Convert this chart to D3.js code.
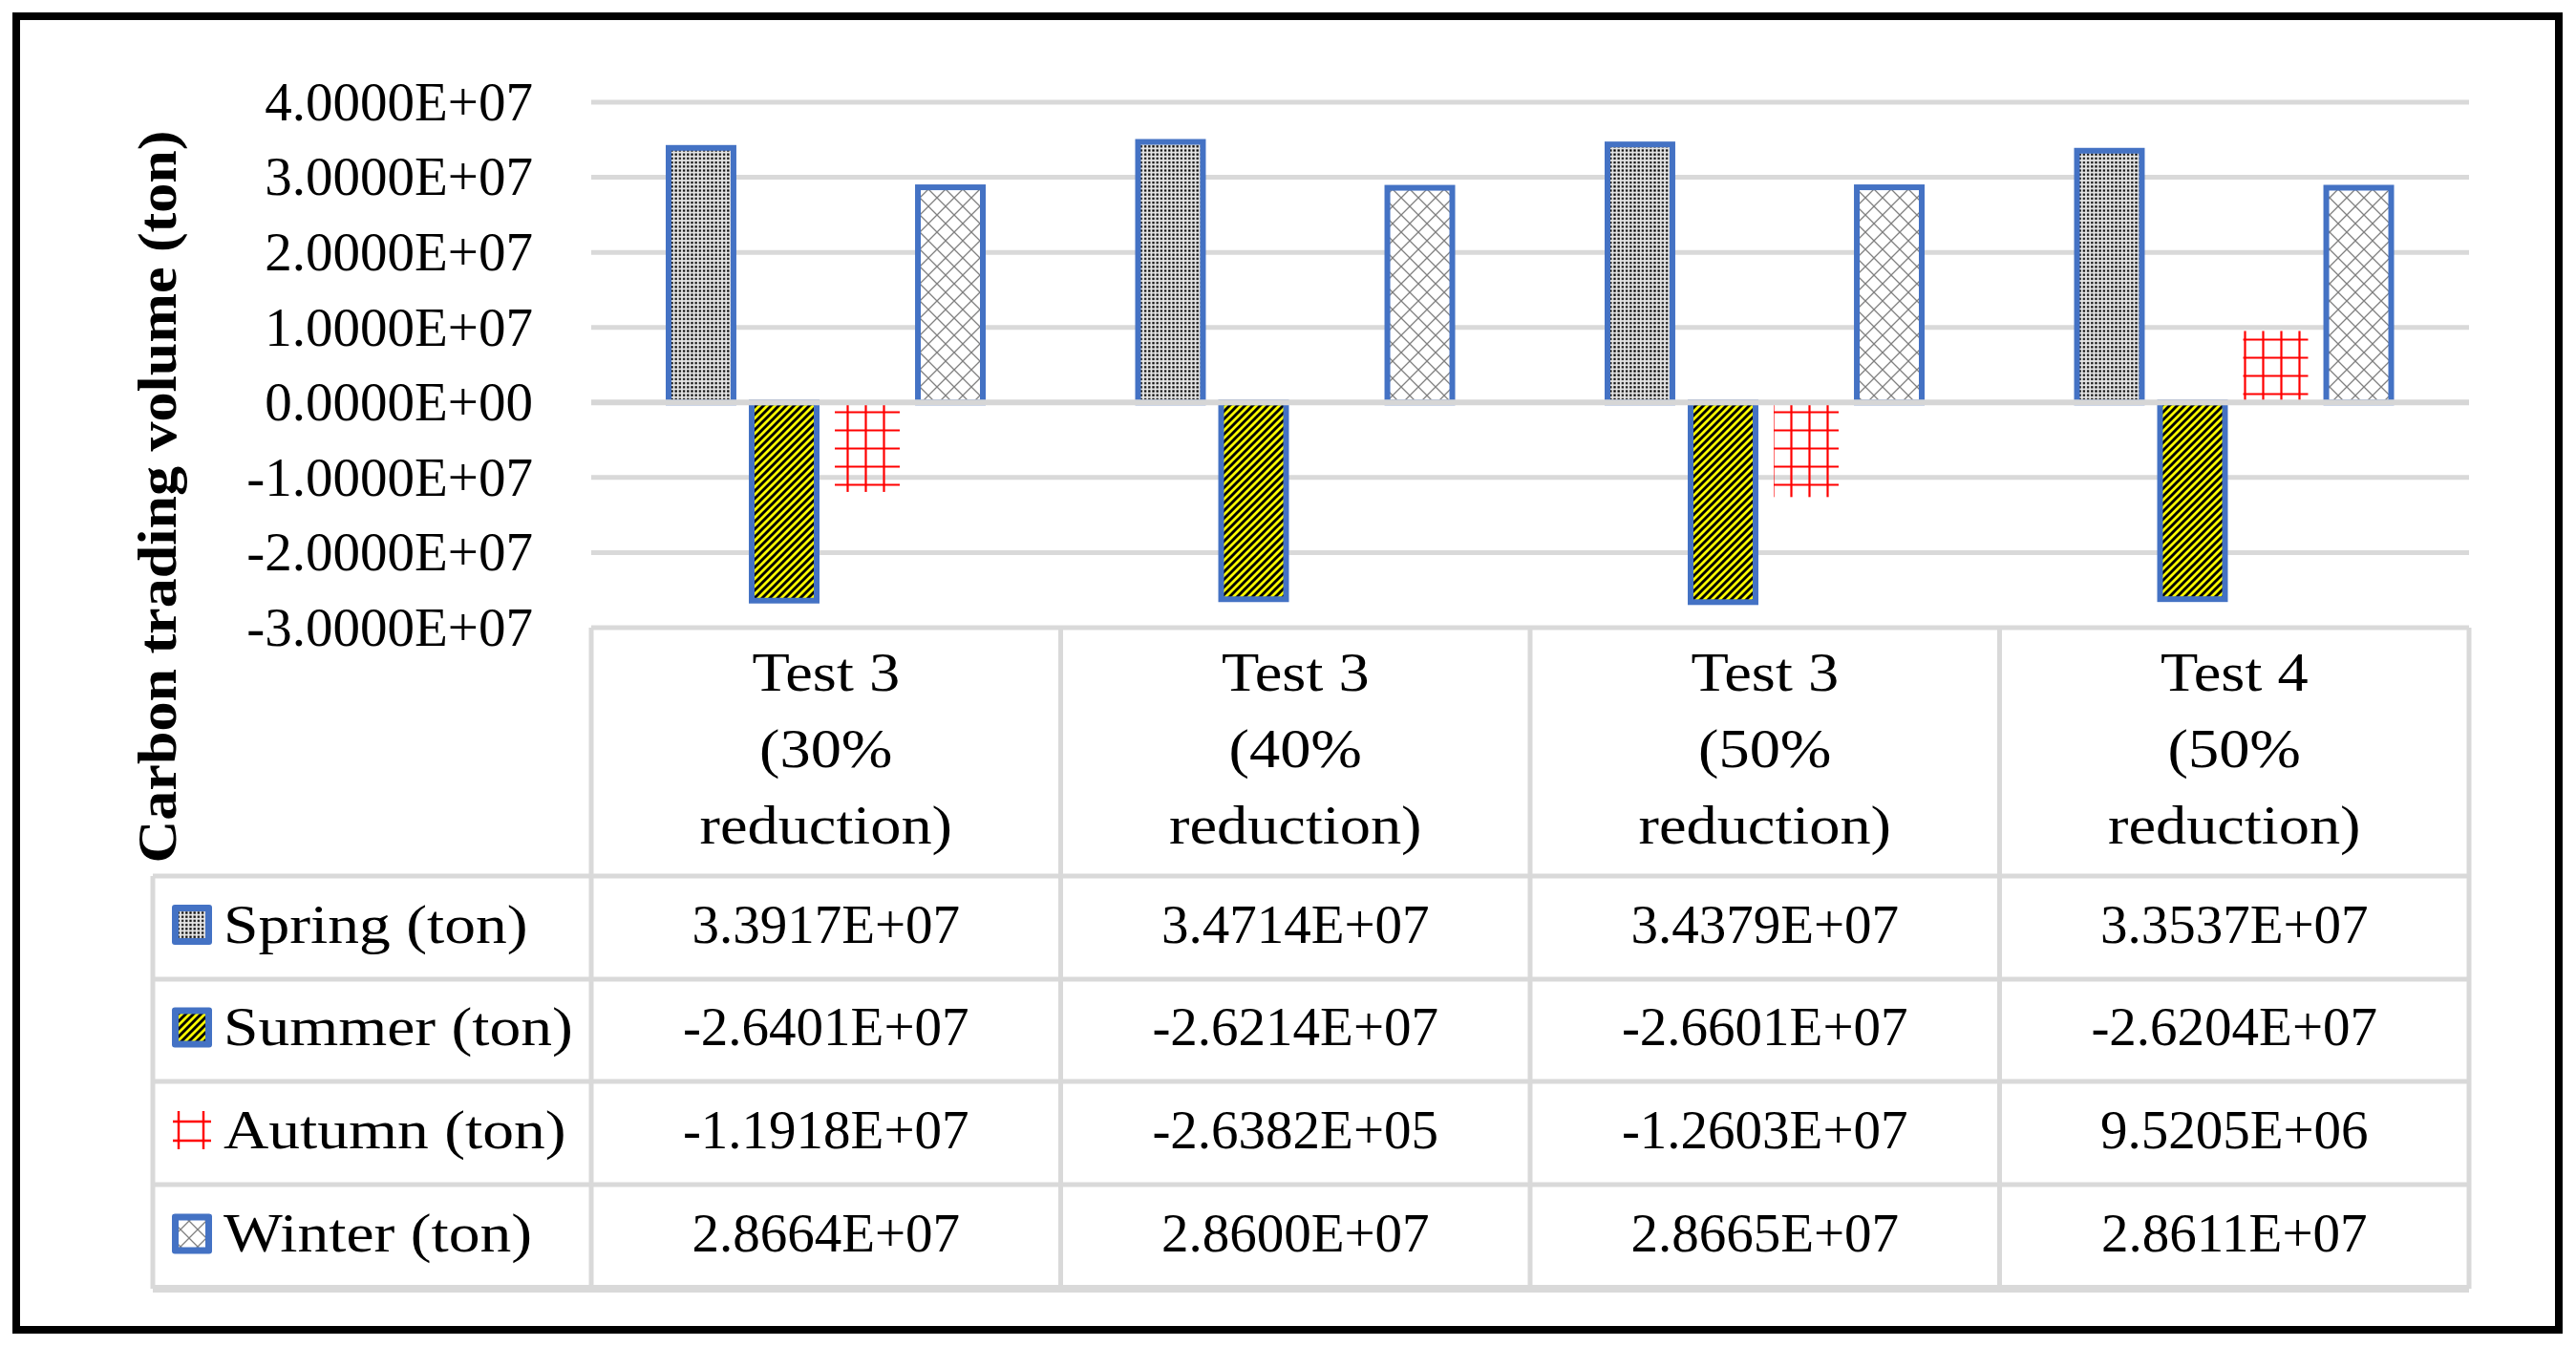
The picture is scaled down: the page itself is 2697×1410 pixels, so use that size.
<!DOCTYPE html>
<html>
<head>
<meta charset="utf-8">
<script src="https://cdn.jsdelivr.net/npm/d3@7"></script>
<style>
  html, body { margin: 0; padding: 0; background: #fff; }
  svg { display: block; }
  text { font-family: "Liberation Serif", "Times New Roman", serif; fill: #000; }
</style>
</head>
<body>
<script>
// ---------------- DATA ----------------
const categoryLines = [
  ["Test 3", "(30%", "reduction)"],
  ["Test 3", "(40%", "reduction)"],
  ["Test 3", "(50%", "reduction)"],
  ["Test 4", "(50%", "reduction)"]
];
const seriesNames = ["Spring (ton)", "Summer (ton)", "Autumn (ton)", "Winter (ton)"];
const spring = [3.3917e7, 3.4714e7, 3.4379e7, 3.3537e7];
const summer = [-2.6401e7, -2.6214e7, -2.6601e7, -2.6204e7];
const autumn = [-1.1918e7, -2.6382e5, -1.2603e7, 9.5205e6];
const winter = [2.8664e7, 2.8600e7, 2.8665e7, 2.8611e7];
const yTicks = [4e7, 3e7, 2e7, 1e7, 0, -1e7, -2e7, -3e7];
const yTitle = "Carbon trading volume (ton)";

const seriesValues = [spring, summer, autumn, winter];
const seriesFill = ["url(#pSpring)", "url(#pSummer)", "url(#pAutumn)", "url(#pWinter)"];

// ---------------- LAYOUT ----------------
const W = 2697, H = 1410;
const plotL = 619, plotR = 2585, plotT = 107, plotB = 657;
const tableLeft = 160;
const rowLines = [917, 1025, 1132, 1240, 1349];
const wordStretch = 1.13;

const fmt = v => v.toExponential(4).toUpperCase().replace(/E([+-])(\d)$/, "E$10$2");

const svg = d3.select("body").append("svg").attr("width", W).attr("height", H);
svg.append("rect").attr("width", W).attr("height", H).attr("fill", "#fff");

// ---------------- PATTERNS ----------------
const defs = svg.append("defs");
// dotted (spring)
const pS = defs.append("pattern").attr("id", "pSpring").attr("patternUnits", "userSpaceOnUse")
  .attr("width", 4.2).attr("height", 4.2);
pS.append("rect").attr("width", 4.2).attr("height", 4.2).attr("fill", "#e4e4e4");
pS.append("rect").attr("x", 1).attr("y", 1).attr("width", 2.2).attr("height", 2.2).attr("fill", "#000");
// yellow / black diagonal (summer)
const pSu = defs.append("pattern").attr("id", "pSummer").attr("patternUnits", "userSpaceOnUse")
  .attr("width", 8).attr("height", 8);
pSu.append("rect").attr("width", 8).attr("height", 8).attr("fill", "#ffff00");
pSu.append("path").attr("d", "M-2,2 L2,-2 M0,8 L8,0 M6,10 L10,6")
  .attr("stroke", "#000").attr("stroke-width", 2.9);
// red grid (autumn)
const pA = defs.append("pattern").attr("id", "pAutumn").attr("patternUnits", "userSpaceOnUse")
  .attr("width", 19).attr("height", 19).attr("x", 4).attr("y", 4);
pA.append("path").attr("d", "M9.5,0 V19 M0,9.5 H19").attr("stroke", "#ff0000").attr("stroke-width", 2.2);
// crosshatch (winter)
const pW = defs.append("pattern").attr("id", "pWinter").attr("patternUnits", "userSpaceOnUse")
  .attr("width", 18).attr("height", 18);
pW.append("rect").attr("width", 18).attr("height", 18).attr("fill", "#fff");
pW.append("path").attr("d", "M0,0 L18,18 M18,0 L0,18").attr("stroke", "#808080").attr("stroke-width", 1.3);

// ---------------- SCALES ----------------
const y = d3.scaleLinear().domain([-3e7, 4e7]).range([plotB, plotT]);
const x = d3.scaleBand().domain(d3.range(categoryLines.length)).range([plotL, plotR]);
const xs = d3.scaleBand().domain(seriesNames).range([78, 413]).paddingInner(0.15);

// ---------------- GRIDLINES ----------------
svg.append("g").selectAll("line").data(yTicks.filter(t => t !== 0)).join("line")
  .attr("x1", plotL).attr("x2", plotR)
  .attr("y1", d => y(d)).attr("y2", d => y(d))
  .attr("stroke", "#d9d9d9").attr("stroke-width", 5);

// ---------------- Y AXIS LABELS ----------------
svg.append("g").selectAll("text").data(yTicks).join("text")
  .attr("x", 558).attr("y", d => y(d)).attr("dy", "0.33em")
  .attr("text-anchor", "end").attr("font-size", 57)
  .text(fmt);

// Y title
svg.append("text")
  .attr("transform", `translate(184,520) rotate(-90) scale(1.07,1)`)
  .attr("text-anchor", "middle").attr("font-size", 58).attr("font-weight", "bold")
  .text(yTitle);

// ---------------- BARS ----------------
const inset = 3;
seriesNames.forEach((s, si) => {
  const g = svg.append("g");
  const isAutumn = si === 2;
  g.selectAll("rect").data(seriesValues[si]).join("rect")
    .attr("x", (d, i) => x(i) + xs(s) + inset)
    .attr("width", xs.bandwidth() - 2 * inset)
    .attr("y", d => y(Math.max(0, d)))
    .attr("height", d => Math.abs(y(d) - y(0)))
    .attr("fill", seriesFill[si])
    .attr("stroke", isAutumn ? "none" : "#4472c4")
    .attr("stroke-width", 6);
});

// zero line
svg.append("line").attr("x1", plotL).attr("x2", plotR).attr("y1", y(0)).attr("y2", y(0))
  .attr("stroke", "#d6d6d6").attr("stroke-width", 6);

// ---------------- DATA TABLE ----------------
const tg = svg.append("g");
const lineCol = "#d9d9d9";
rowLines.forEach((ly, k) => {
  tg.append("line").attr("x1", tableLeft).attr("x2", plotR).attr("y1", ly).attr("y2", ly)
    .attr("stroke", lineCol).attr("stroke-width", k === rowLines.length - 1 ? 8 : 5);
});
const colEdges = d3.range(categoryLines.length + 1).map(i => i < categoryLines.length ? x(i) : plotR);
colEdges.forEach(cx => {
  tg.append("line").attr("x1", cx).attr("x2", cx).attr("y1", plotB).attr("y2", rowLines[rowLines.length - 1])
    .attr("stroke", lineCol).attr("stroke-width", 5);
});
tg.append("line").attr("x1", tableLeft).attr("x2", tableLeft).attr("y1", rowLines[0]).attr("y2", rowLines[rowLines.length - 1])
  .attr("stroke", lineCol).attr("stroke-width", 5);

// header text
const headerBase = [723, 803, 883];
categoryLines.forEach((lines, i) => {
  const cx = x(i) + x.bandwidth() / 2;
  lines.forEach((ln, j) => {
    tg.append("text").attr("transform", `translate(${cx},${headerBase[j]}) scale(${wordStretch},1)`)
      .attr("text-anchor", "middle").attr("font-size", 57).text(ln);
  });
});

// rows
seriesNames.forEach((s, si) => {
  const cy = (rowLines[si] + rowLines[si + 1]) / 2 - 3;
  if (si === 2) {
    tg.append("path")
      .attr("d", `M187,${cy - 20} V${cy + 20} M213,${cy - 20} V${cy + 20} M181,${cy - 9} H221 M181,${cy + 11} H221`)
      .attr("stroke", "#ff0000").attr("stroke-width", 2.4).attr("fill", "none");
  } else {
    tg.append("rect").attr("x", 180).attr("y", cy - 21).attr("width", 42).attr("height", 42)
      .attr("rx", 3).attr("fill", "#4472c4");
    tg.append("rect").attr("x", 187).attr("y", cy - 14).attr("width", 28).attr("height", 28)
      .attr("fill", seriesFill[si]);
  }
  tg.append("text").attr("transform", `translate(234,${cy}) scale(1.15,1)`)
    .attr("dy", "0.33em").attr("font-size", 57).text(s);
  seriesValues[si].forEach((v, i) => {
    tg.append("text").attr("x", x(i) + x.bandwidth() / 2).attr("y", cy).attr("dy", "0.33em")
      .attr("text-anchor", "middle").attr("font-size", 57).text(fmt(v));
  });
});

// ---------------- OUTER FRAME ----------------
svg.append("rect").attr("x", 17).attr("y", 17).attr("width", 2662).attr("height", 1375)
  .attr("fill", "none").attr("stroke", "#000").attr("stroke-width", 8);
</script>
</body>
</html>
